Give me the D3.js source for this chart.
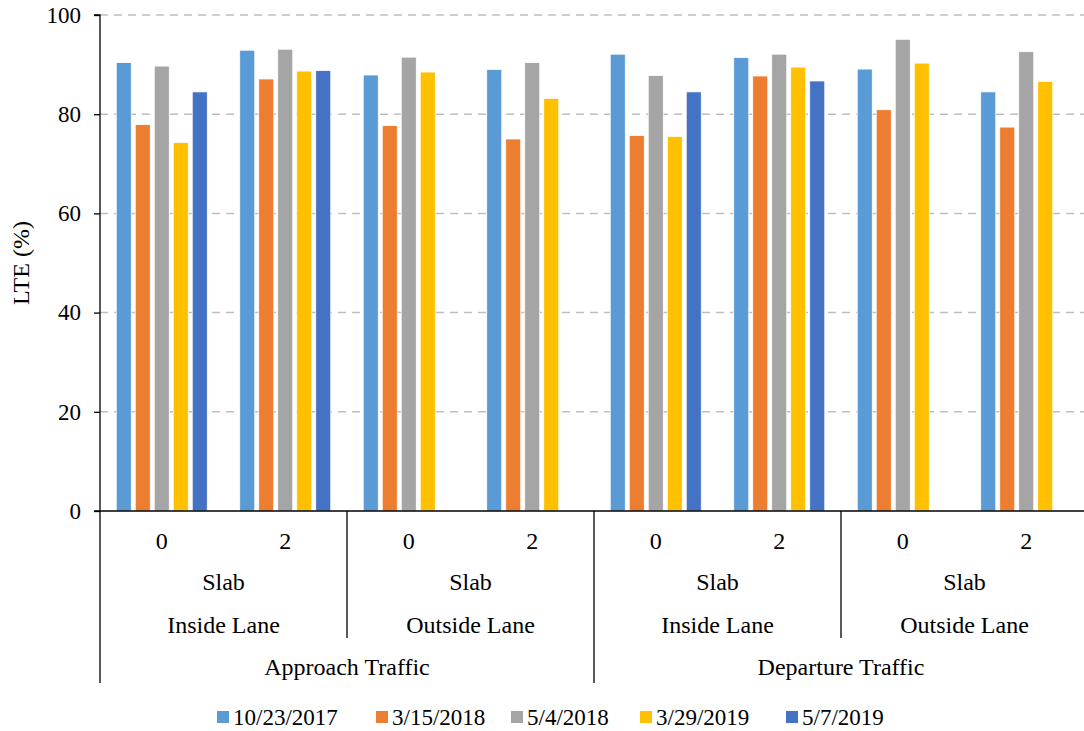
<!DOCTYPE html>
<html>
<head>
<meta charset="utf-8">
<script src="https://cdn.jsdelivr.net/npm/d3@7/dist/d3.min.js"></script>
<style>
  html, body { margin: 0; padding: 0; background: #fff; }
  #chart text { font-family: "Liberation Serif", "Times New Roman", serif; font-size: 23px; fill: #000; }
  #chart text.ytitle, #chart text.cat { font-size: 24px; }
</style>
</head>
<body>
<svg id="chart" width="1084" height="731"></svg>
<script>
// Offsets at each slab location, grouped by lane and traffic direction
const offsets = ["0", "2", "0", "2", "0", "2", "0", "2"];
const lanes = ["Inside Lane", "Outside Lane", "Inside Lane", "Outside Lane"];
const traffic = ["Approach Traffic", "Departure Traffic"];
const level2 = "Slab";

const seriesNames = ["10/23/2017", "3/15/2018", "5/4/2018", "3/29/2019", "5/7/2019"];
const seriesColors = ["#5B9BD5", "#ED7D31", "#A5A5A5", "#FFC000", "#4472C4"];

// LTE (%) per test date, one value per offset category
const lte20171023 = [90.4, 92.9, 87.9, 89.0, 92.1, 91.4, 89.1, 84.5];
const lte20180315 = [77.9, 87.1, 77.7, 75.0, 75.7, 87.7, 80.9, 77.4];
const lte20180504 = [89.7, 93.1, 91.5, 90.4, 87.8, 92.1, 95.1, 92.6];
const lte20190329 = [74.3, 88.7, 88.5, 83.2, 75.5, 89.5, 90.3, 86.6];
const lte20190507 = [84.5, 88.8, null, null, 84.5, 86.7, null, null];

const yTicks = [0, 20, 40, 60, 80, 100];

const seriesValues = [lte20171023, lte20180315, lte20180504, lte20190329, lte20190507];

const svg = d3.select("#chart");
const margin = { left: 100, top: 15, right: 1088, bottom: 511 };

const catIdx = d3.range(offsets.length);
const x = d3.scaleBand().domain(catIdx).range([margin.left, margin.right]).padding(0);
const bw = x.bandwidth();
const xs = d3.scaleBand().domain(d3.range(seriesNames.length)).range([0, bw])
  .paddingInner(0.21).paddingOuter(0.855);
const y = d3.scaleLinear().domain([0, 100]).range([margin.bottom, margin.top]);

// dashed gridlines
svg.append("g")
  .selectAll("line")
  .data(yTicks.filter(d => d > 0))
  .join("line")
  .attr("x1", margin.left).attr("x2", margin.right)
  .attr("y1", d => y(d)).attr("y2", d => y(d))
  .attr("stroke", "#BFBFBF")
  .attr("stroke-width", 1.5)
  .attr("stroke-dasharray", "8,6");

// bars
const barData = [];
seriesValues.forEach((vals, s) => {
  vals.forEach((v, c) => { if (v != null) barData.push({ s, c, v }); });
});
svg.append("g")
  .selectAll("rect")
  .data(barData)
  .join("rect")
  .attr("x", d => x(d.c) + xs(d.s))
  .attr("width", xs.bandwidth())
  .attr("y", d => y(d.v))
  .attr("height", d => y(0) - y(d.v))
  .attr("fill", d => seriesColors[d.s])
  .attr("stroke", "#fff")
  .attr("stroke-width", 0.75);

// y axis
const yAxis = d3.axisLeft(y).tickValues(yTicks).tickSize(6).tickPadding(13);
const yg = svg.append("g").attr("transform", `translate(${margin.left},0)`).call(yAxis)
  .attr("font-family", null).attr("font-size", null);
yg.select(".domain").attr("stroke", "#000").attr("stroke-width", 1.3).attr("d", `M-6,${y(100)}H0V${y(0)}`);
yg.selectAll(".tick line").attr("stroke", "#000").attr("stroke-width", 1.3);

svg.append("text")
  .attr("class", "ytitle")
  .attr("transform", `translate(21,${(y(0) + y(100)) / 2}) rotate(-90)`)
  .attr("text-anchor", "middle")
  .attr("dy", "0.35em")
  .text("LTE (%)");

// category axis (multi-level)
const axisG = svg.append("g");
axisG.append("line")
  .attr("x1", margin.left - 6).attr("x2", margin.right)
  .attr("y1", y(0)).attr("y2", y(0))
  .attr("stroke", "#000").attr("stroke-width", 1.3);

const rowY = [541, 582, 625, 667];
const laneBottom = 638, trafficBottom = 683;

// level 1: offsets
axisG.selectAll("text.off")
  .data(offsets)
  .join("text")
  .attr("class", "off cat")
  .attr("x", (d, i) => x(i) + bw / 2)
  .attr("y", rowY[0])
  .attr("dy", "0.35em")
  .attr("text-anchor", "middle")
  .text(d => d);

// level 2 & 3: slab label and lane, spanning two offsets each
lanes.forEach((lane, i) => {
  const x0 = x(i * 2), x1 = x(i * 2 + 1) + bw;
  axisG.append("text").attr("class", "cat")
    .attr("x", (x0 + x1) / 2).attr("y", rowY[1]).attr("dy", "0.35em")
    .attr("text-anchor", "middle").text(level2);
  axisG.append("text").attr("class", "cat")
    .attr("x", (x0 + x1) / 2).attr("y", rowY[2]).attr("dy", "0.35em")
    .attr("text-anchor", "middle").text(lane);
  if (i % 2 === 1) {
    axisG.append("line")
      .attr("x1", x0).attr("x2", x0).attr("y1", y(0)).attr("y2", laneBottom)
      .attr("stroke", "#000").attr("stroke-width", 1.3);
  }
});

// level 4: traffic direction, spanning four offsets each
traffic.forEach((t, i) => {
  const x0 = x(i * 4), x1 = x(i * 4 + 3) + bw;
  axisG.append("text").attr("class", "cat")
    .attr("x", (x0 + x1) / 2).attr("y", rowY[3]).attr("dy", "0.35em")
    .attr("text-anchor", "middle").text(t);
  axisG.append("line")
    .attr("x1", x0).attr("x2", x0).attr("y1", y(0)).attr("y2", trafficBottom)
    .attr("stroke", "#000").attr("stroke-width", 1.3);
});
axisG.append("line")
  .attr("x1", margin.right).attr("x2", margin.right).attr("y1", y(0)).attr("y2", trafficBottom)
  .attr("stroke", "#000").attr("stroke-width", 1.3);

// legend
const legendX = [217, 376, 511, 640, 786];
const lg = svg.append("g").selectAll("g")
  .data(seriesNames)
  .join("g")
  .attr("transform", (d, i) => `translate(${legendX[i]},717)`);
lg.append("rect")
  .attr("x", 0).attr("y", -6).attr("width", 12).attr("height", 12)
  .attr("fill", (d, i) => seriesColors[i]);
lg.append("text")
  .attr("x", 16).attr("y", 0).attr("dy", "0.35em")
  .text(d => d);
</script>
</body>
</html>
